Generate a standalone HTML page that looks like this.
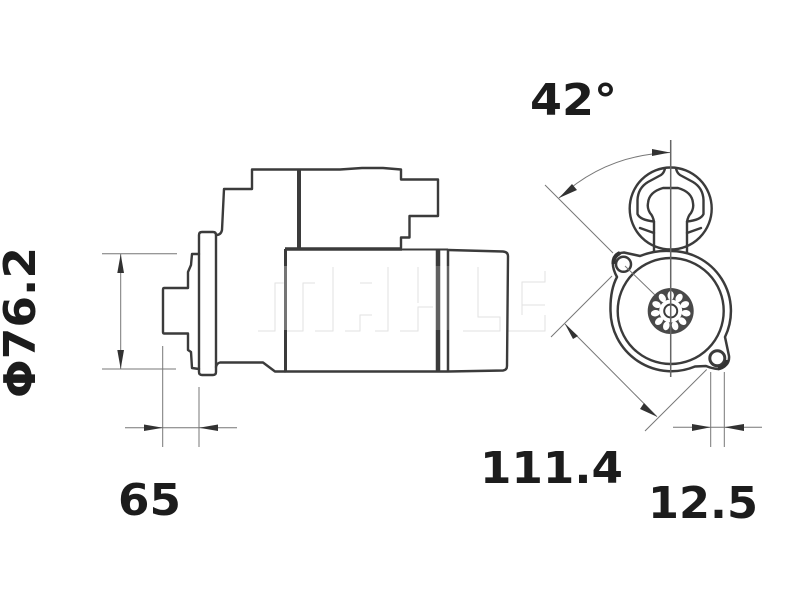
<!DOCTYPE html>
<html><head><meta charset="utf-8"><style>
html,body{margin:0;padding:0;background:#fff}
svg{display:block}
text{font-family:"DejaVu Sans","Liberation Sans",sans-serif;font-weight:bold;font-size:44px;fill:#1c1c1c}
.o{fill:none;stroke:#3a3a3a;stroke-width:2.400;stroke-linejoin:round;stroke-linecap:round}
.t{fill:none;stroke:#777;stroke-width:1}
.a{fill:#333;stroke:none}
.w{fill:none;stroke:#e2e2e2;stroke-width:1}
</style></head><body>
<svg width="800" height="600" viewBox="0 0 800 600" xmlns="http://www.w3.org/2000/svg">
<defs><filter id="b" x="-5%" y="-5%" width="110%" height="110%"><feGaussianBlur stdDeviation="0.35"/></filter></defs>
<g filter="url(#b)">
<!-- watermark -->
<path class="w" d="M258 331H275V283H287M287 331H303V283H315M315 331H333V267M345 331H360V315H372M360 283H372M375 331H388V267M400 331H418V307H433M418 267V303M463 331H500V317H478V267M508 331H545V315M522 315V282H545V271M522 305H545"/>
<!-- side view -->
<path class="o" d="M216 235Q221 235 222 230L224 189H252V169.500H340L362 168H383L401 169.500V179.500H438V216H409.500V237.500H401V248"/>
<path class="o" d="M199 235Q199 232 202 232H213Q216 232 216 235V372Q216 375 213 375H202Q199 375 199 372Z"/>
<path class="o" d="M199 254H192L191 265L188 272V288H164Q163 288 163 290V332Q163 333.500 164 333.500H188V350L191 352L192 368L199 369"/>
<path class="o" d="M216 367Q217 363 220 362.500H263L275 371.500H285"/>
<path class="o" d="M285 371.500H448L503 370.500Q507 370 507 366L508 256Q508 252 503 251.500L448 250"/>
<path d="M299 169V249" stroke="#3a3a3a" stroke-width="4" fill="none"/>
<path d="M285 249H402" stroke="#3a3a3a" stroke-width="3.500" fill="none"/>
<path d="M402 249.500H448" stroke="#3a3a3a" stroke-width="2" fill="none"/>
<path d="M285.500 249V372" stroke="#3a3a3a" stroke-width="3" fill="none"/>
<path d="M438 250V372" stroke="#3a3a3a" stroke-width="4.500" fill="none"/>
<path d="M448 250V372" stroke="#3a3a3a" stroke-width="2.500" fill="none"/>
<rect x="283" y="266" width="5" height="64" fill="#fff" opacity=".3"/>
<rect x="435" y="266" width="15" height="64" fill="#fff" opacity=".2"/>
<!-- left dims -->
<path class="t" d="M102 253.700H177M102 369H176M120.700 254V369M162.700 346V447M199 387V447M125 427.700H237"/>
<path class="a" d="M120.700 254L124 273H117.300ZM120.700 369L124 350H117.300ZM163 427.700L144 424.500V431ZM199 427.700L218 424.500V431Z"/>
<!-- cap -->
<circle class="o" cx="670.700" cy="208.500" r="41"/>
<path class="o" d="M654 252V222Q653 216 650 213Q647 208 648 203Q649 192 663 188H678Q692 192 693 203Q694 208 691 213Q688 216 687 222V252"/>
<path class="o" d="M665 168.500Q664 173 661 175L648 182Q638 188 637.500 200V214Q640 220 654 221.500M676 168.500Q677 173 680 175L693 182Q703 188 703.500 200V214Q701 220 687 221.500"/>
<path class="o" d="M640 228L654 233M701 228L687 233"/>
<!-- flange -->
<path fill="#fff" stroke="#3a3a3a" stroke-width="2.500" stroke-linejoin="round" d="M640 256Q655 250 670.700 251A60 60 0 0 1 725 337L729 356Q730 366 718 369Q712 368.500 706 366L695 366.500A61 61 0 0 1 610.500 311Q610 290 617 277Q612 268 613 261Q615 253 624 252.500Z"/>
<circle class="o" cx="670.700" cy="311" r="53"/>
<circle cx="623.500" cy="264.300" r="7.500" fill="#fff" stroke="#3a3a3a" stroke-width="2.500"/>
<circle cx="717.300" cy="358.300" r="7.500" fill="#fff" stroke="#3a3a3a" stroke-width="3"/>
<path d="M620 253Q613 256 613.500 264" fill="none" stroke="#333" stroke-width="4"/>
<path d="M727 360Q726 367 718 368.500" fill="none" stroke="#333" stroke-width="4"/>
<!-- splined pinion -->
<circle cx="670.700" cy="311" r="23" fill="#4a4a4a"/>
<circle cx="670.700" cy="311" r="11.500" fill="#fff"/>
<g fill="#fff">
<ellipse cx="670.700" cy="295.500" rx="3.200" ry="4.500"/>
<ellipse cx="670.700" cy="295.500" rx="3.200" ry="4.500" transform="rotate(32.700 670.700 311)"/>
<ellipse cx="670.700" cy="295.500" rx="3.200" ry="4.500" transform="rotate(65.500 670.700 311)"/>
<ellipse cx="670.700" cy="295.500" rx="3.200" ry="4.500" transform="rotate(98.200 670.700 311)"/>
<ellipse cx="670.700" cy="295.500" rx="3.200" ry="4.500" transform="rotate(130.900 670.700 311)"/>
<ellipse cx="670.700" cy="295.500" rx="3.200" ry="4.500" transform="rotate(163.600 670.700 311)"/>
<ellipse cx="670.700" cy="295.500" rx="3.200" ry="4.500" transform="rotate(196.400 670.700 311)"/>
<ellipse cx="670.700" cy="295.500" rx="3.200" ry="4.500" transform="rotate(229.100 670.700 311)"/>
<ellipse cx="670.700" cy="295.500" rx="3.200" ry="4.500" transform="rotate(261.800 670.700 311)"/>
<ellipse cx="670.700" cy="295.500" rx="3.200" ry="4.500" transform="rotate(294.500 670.700 311)"/>
<ellipse cx="670.700" cy="295.500" rx="3.200" ry="4.500" transform="rotate(327.300 670.700 311)"/>
</g>
<circle cx="670.700" cy="311" r="6.500" fill="#fff" stroke="#3a3a3a" stroke-width="2"/>
<!-- right dims -->
<path d="M670.700 140V377" stroke="#666" stroke-width="1.500" fill="none"/>
<path class="t" d="M545 185L613 253M625 266L655 295M612 276L551 337M565 324L657 416.700M706.700 369.500L645 431M710.700 372V447M724.300 372V447M673 427.300H762"/>
<path class="t" d="M559 198Q605 155 670 152.500"/>
<path class="a" d="M559 198L572 184L577 190ZM670 152.500L652 149V156ZM565 324L578 336L573 339ZM657 416.700L644 403L640 409ZM710.700 427.300L692 424V431ZM724.300 427.300L744 424V431Z"/>
</g>
<!-- labels -->
<text x="530" y="115" textLength="87" lengthAdjust="spacingAndGlyphs">42°</text>
<text x="480" y="483" textLength="143" lengthAdjust="spacingAndGlyphs">111.4</text>
<text x="648" y="518" textLength="110" lengthAdjust="spacingAndGlyphs">12.5</text>
<text x="118" y="515" textLength="63" lengthAdjust="spacingAndGlyphs">65</text>
<text transform="translate(35 398) rotate(-90)" textLength="151" lengthAdjust="spacingAndGlyphs">Φ76.2</text>
</svg>
</body></html>
